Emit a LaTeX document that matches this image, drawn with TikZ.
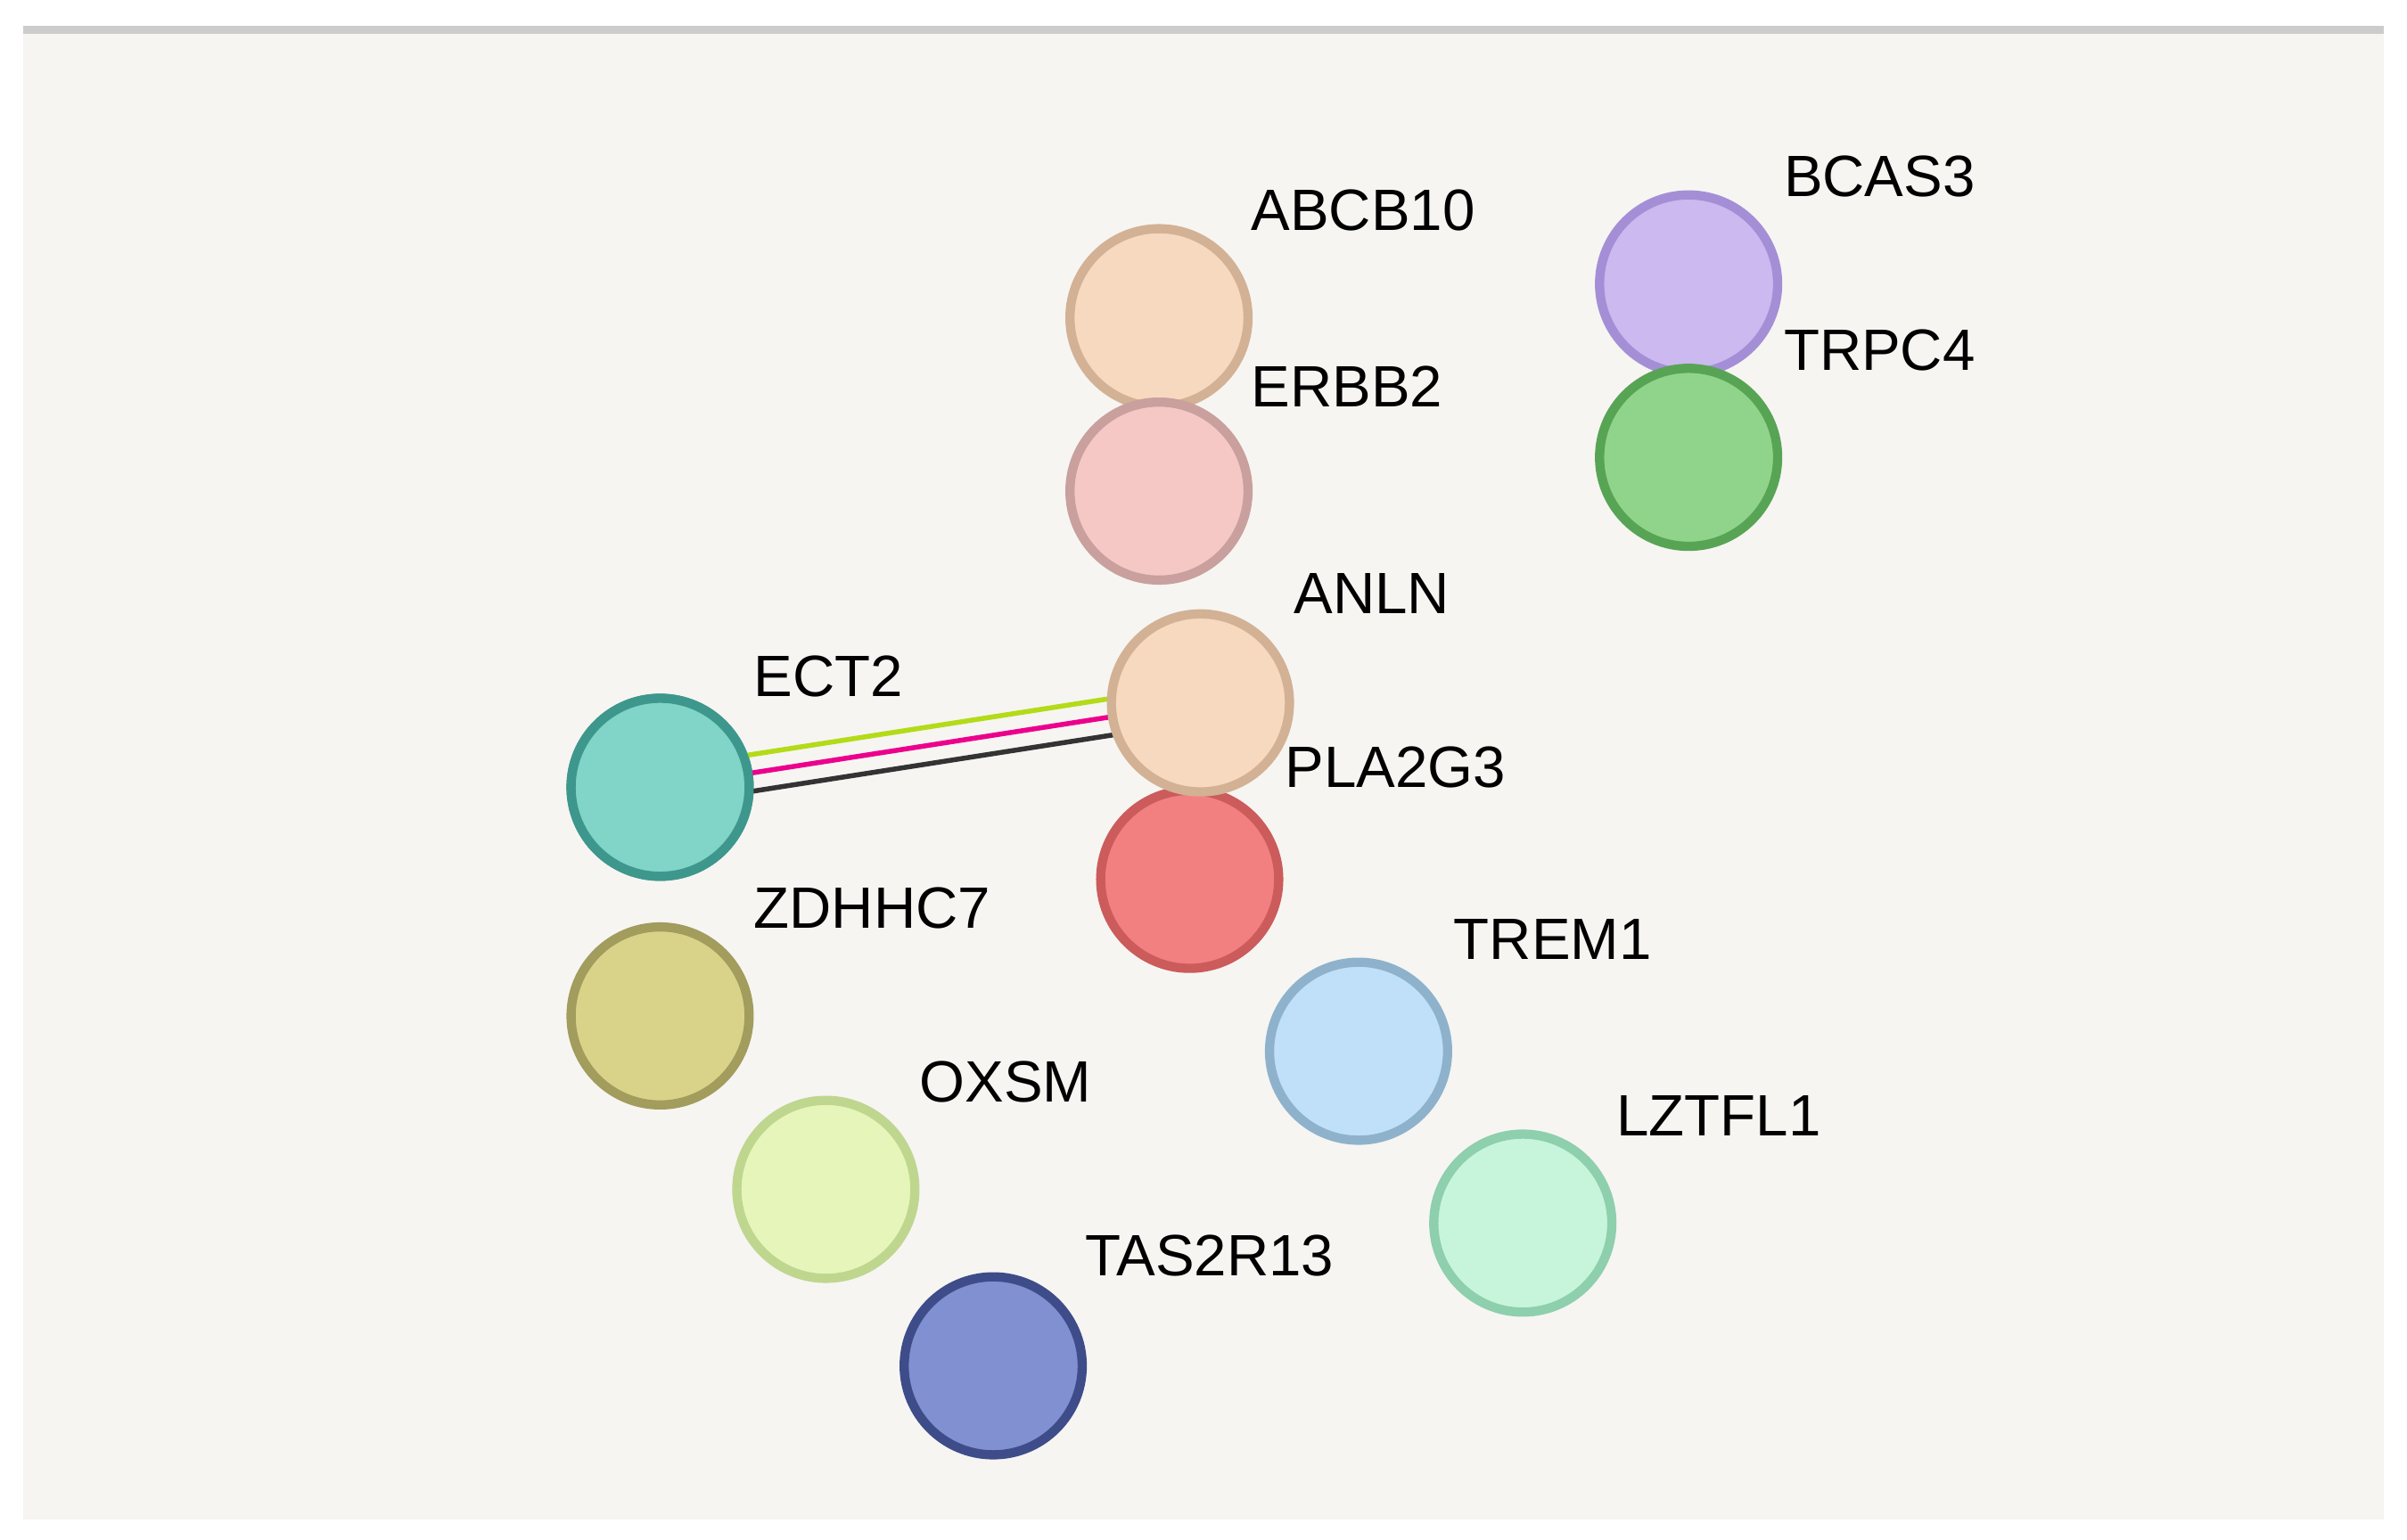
\documentclass[tikz,border=0pt]{standalone}
\usepackage{fontspec}
\setmainfont{Liberation Sans}
\definecolor{bg}{HTML}{F6F5F2}
\definecolor{peachF}{HTML}{F7D9C0}\definecolor{peachD}{HTML}{D3B194}
\definecolor{pinkF}{HTML}{F5C8C6}\definecolor{pinkD}{HTML}{C9A09D}
\definecolor{lavF}{HTML}{CBB9EF}\definecolor{lavD}{HTML}{A48FD6}
\definecolor{grnF}{HTML}{90D48B}\definecolor{grnD}{HTML}{58A455}
\definecolor{redF}{HTML}{F28080}\definecolor{redD}{HTML}{CC5B5B}
\definecolor{tealF}{HTML}{80D4C8}\definecolor{tealD}{HTML}{3E978C}
\definecolor{oliF}{HTML}{D9D38A}\definecolor{oliD}{HTML}{A29C5D}
\definecolor{lgF}{HTML}{E6F5B9}\definecolor{lgD}{HTML}{BFD68F}
\definecolor{lbF}{HTML}{BFE0F8}\definecolor{lbD}{HTML}{8EB2CB}
\definecolor{mintF}{HTML}{C6F5DC}\definecolor{mintD}{HTML}{8ECFAD}
\definecolor{dbF}{HTML}{8090D0}\definecolor{dbD}{HTML}{3E4C8A}
\begin{document}
\begin{tikzpicture}[x=0.5pt,y=-0.5pt,
  prot/.style 2 args={circle,minimum size=58pt,inner sep=0pt,fill=#1,draw=#2,line width=3pt},
  lab/.style={anchor=west,font=\fontsize{19}{22}\selectfont,text=black},
  edge/.style={line width=1.6pt}]
\useasboundingbox (0,0) rectangle (1568,1003.5);
\fill[white] (0,0) rectangle (1568,1003.5);
\fill[gray!40] (15,17) rectangle (1553,22);
\fill[bg] (15,22) rectangle (1553,990);
\node[prot={peachF}{peachD}] (abcb) at (755,207) {};
\node[prot={pinkF}{pinkD}] (erbb) at (755,320) {};
\node[prot={lavF}{lavD}] (bcas) at (1100,185) {};
\node[prot={grnF}{grnD}] (trpc) at (1100,298) {};
\node[prot={redF}{redD}] (pla) at (775,573) {};
\node[prot={tealF}{tealD}] (ect) at (430,513) {};
\begin{scope}[on background layer/.try]
\end{scope}
\draw[edge,color=yellow!70!green] ([yshift=6]ect.center) -- ([yshift=6]782,458);
\draw[edge,color=magenta] (ect.center) -- (782,458);
\draw[edge,color=black!80] ([yshift=-6]ect.center) -- ([yshift=-6]782,458);
\node[prot={tealF}{tealD}] (ect) at (430,513) {};
\node[prot={peachF}{peachD}] (anln) at (782,458) {};
\node[prot={oliF}{oliD}] (zdh) at (430,662) {};
\node[prot={lgF}{lgD}] (oxsm) at (538,775) {};
\node[prot={lbF}{lbD}] (trem) at (885,685) {};
\node[prot={mintF}{mintD}] (lzt) at (992,797) {};
\node[prot={dbF}{dbD}] (tas) at (647,890) {};
\node[lab] (l1) at (808,137) {ABCB10};
\node[lab] (l2) at (808,252) {ERBB2};
\node[lab] (l3) at (1155,115) {BCAS3};
\node[lab] (l4) at (1155,228) {TRPC4};
\node[lab] (l5) at (836,387) {ANLN};
\node[lab] (l6) at (830,500) {PLA2G3};
\node[lab] (l7) at (484,441) {ECT2};
\node[lab] (l8) at (484,592) {ZDHHC7};
\node[lab] (l9) at (592,705) {OXSM};
\node[lab] (l10) at (940,612) {TREM1};
\node[lab] (l11) at (1046,727) {LZTFL1};
\node[lab] (l12) at (700,818) {TAS2R13};
\end{tikzpicture}
\end{document}
